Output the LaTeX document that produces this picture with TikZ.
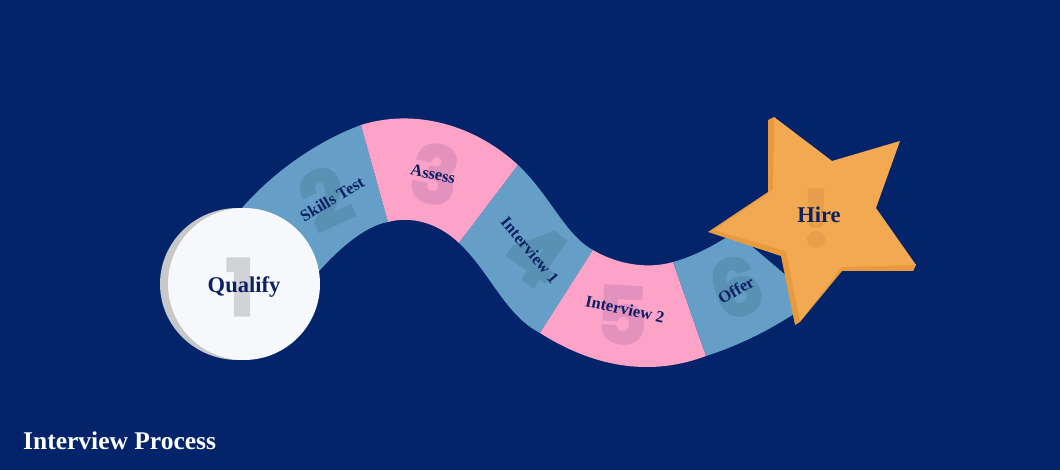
\documentclass[tikz,border=0pt]{standalone}
\usepackage{fontspec}
\setmainfont{Liberation Serif}
\newfontfamily\numfont[BoldFeatures={FakeBold=3}]{Poppins}
\definecolor{navy}{HTML}{03246B}
\definecolor{inkblue}{HTML}{0B2163}
\definecolor{stepblue}{HTML}{659FC7}
\definecolor{numblue}{HTML}{5891B3}
\definecolor{steppink}{HTML}{FDA3C7}
\definecolor{numpink}{HTML}{E391BD}
\definecolor{starface}{HTML}{F2A951}
\definecolor{starside}{HTML}{E89A3C}
\definecolor{numstar}{HTML}{E89F4B}
\definecolor{discface}{HTML}{F6F8FB}
\definecolor{discside}{HTML}{C8C8C8}
\definecolor{numdisc}{HTML}{D2D3D5}
\tikzset{
  x=1pt, y=-1pt,
  steplabel/.style={inner sep=0pt, text=inkblue, font=\fontsize{16.5}{17}\selectfont\bfseries},
  biglabel/.style={inner sep=0pt, text=inkblue, font=\fontsize{22.5}{24}\selectfont\bfseries},
  numeral/.style={inner sep=0pt, font=\fontsize{78}{78}\selectfont\numfont\bfseries}
}
\begin{document}
\begin{tikzpicture}
\useasboundingbox (0,0) rectangle (1060,470);
\fill[navy] (0,0) rectangle (1060,470);

% ribbon segments
\fill[stepblue] (235,215) -- (242,208) .. controls (275,170) and (320,140) .. (361,125)
  -- (388,222) .. controls (365,226) and (340,248) .. (320,270) -- (300,290) -- cycle;
\fill[steppink] (361,125) .. controls (415,108) and (475,125) .. (518,165)
  -- (459,243) .. controls (437,222) and (410,216) .. (388,222) -- cycle;
\fill[stepblue] (518,165) .. controls (550,195) and (565,235) .. (593,250)
  -- (540,333) .. controls (505,315) and (490,272) .. (459,243) -- cycle;
\fill[steppink] (593,250) .. controls (615,263) and (645,270) .. (673,262)
  -- (706,356) .. controls (690,362) and (670,367) .. (647,367)
  .. controls (610,367) and (575,355) .. (540,333) -- cycle;
\fill[stepblue] (673,262) .. controls (695,256) and (715,245) .. (735,232)
  -- (815,300) -- (800,310) .. controls (770,330) and (740,345) .. (706,356) -- cycle;

% step numerals
\node[numeral, text=numblue, rotate=25] (n2) at (325,198) {2};
\node[numeral, text=numpink, rotate=-10] (n3) at (435,174) {3};
\node[numeral, text=numblue, rotate=-35] (n4) at (536,254) {4};
\node[numeral, text=numpink, rotate=-3] (n5) at (622,315) {5};
\node[numeral, text=numblue, rotate=20] (n6) at (736,287) {6};

% start disc
\fill[discside] (238,284) ellipse [x radius=78, y radius=76];
\fill[discface] (244,284) circle [radius=76];
\node[numeral, text=numdisc] (n1) at (240,287) {1};

% finish star
\fill[starside] (774,117) -- (768,120) -- (768,192) -- (708,232) -- (781,256)
  -- (795,325) -- (800,322) -- (842,271) -- (913,271) -- (916,265) -- cycle;
\fill[starface] (774,117) -- (832,161) -- (900,141) -- (876,208) -- (916,265)
  -- (842,267) -- (800,321) -- (786,251) -- (714,230) -- (773,190) -- cycle;
\node[numeral, text=numstar] (n7) at (816,218) {!};

% step labels
\node[biglabel] (qualify) at (244,287) {Qualify};
\node[steplabel, rotate=31] (skills) at (332,199) {Skills Test};
\node[steplabel, rotate=-12] (assess) at (433,174) {Assess};
\node[steplabel, rotate=-50] (int1) at (530,250) {Interview 1};
\node[steplabel, rotate=-12] (int2) at (625,309) {Interview 2};
\node[steplabel, rotate=30] (offer) at (736,290) {Offer};
\node[biglabel] (hire) at (819,215) {Hire};

% caption
\node[anchor=west, inner sep=0pt, text=white, font=\fontsize{25.5}{25.5}\selectfont\bfseries] (title) at (23,441) {Interview Process};
\end{tikzpicture}
\end{document}
